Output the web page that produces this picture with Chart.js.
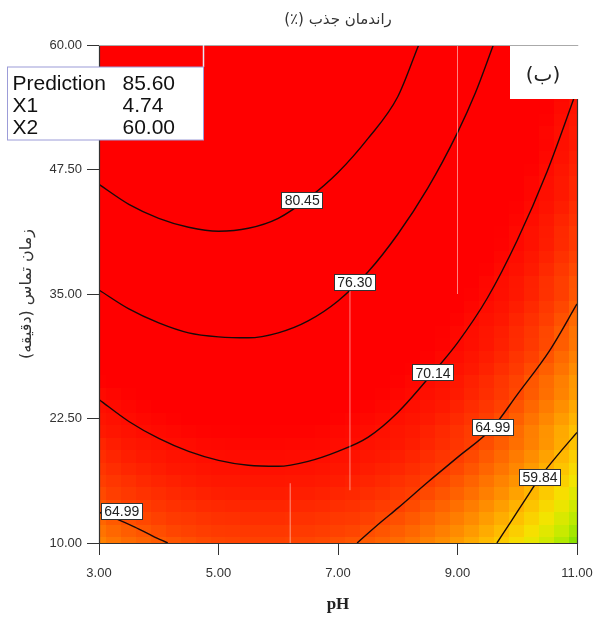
<!DOCTYPE html>
<html><head><meta charset="utf-8">
<script src="https://cdn.jsdelivr.net/npm/chart.js@4.4.1/dist/chart.umd.min.js"></script>
<style>html,body{margin:0;padding:0;background:#fff;}</style>
</head><body>
<canvas id="c" width="595" height="619"></canvas>
<script>
// ---------- DATA ----------
const phValues = [3,3.25,3.5,3.75,4,4.25,4.5,4.75,5,5.25,5.5,5.75,6,6.25,6.5,6.75,7,7.25,7.5,7.75,8,8.25,8.5,8.75,9,9.25,9.5,9.75,10,10.25,10.5,10.75,11];
const timeValues = [10,11.25,12.5,13.75,15,16.25,17.5,18.75,20,21.25,22.5,23.75,25,26.25,27.5,28.75,30,31.25,32.5,33.75,35,36.25,37.5,38.75,40,41.25,42.5,43.75,45,46.25,47.5,48.75,50,51.25,52.5,53.75,55,56.25,57.5,58.75,60];
// estimated adsorption yield (%) — one row per contact time, one column per pH
const responseGrid = [
 [62.8,63.4,63.9,64.3,64.7,65.0,65.3,65.6,65.8,65.9,66.0,66.0,66.0,65.9,65.8,65.6,65.3,65.0,64.7,64.3,63.9,63.4,62.8,62.2,61.6,60.9,60.1,59.3,58.4,57.5,56.5,55.5,54.4],
 [63.5,64.1,64.6,65.0,65.4,65.8,66.0,66.3,66.5,66.6,66.7,66.7,66.7,66.6,66.5,66.3,66.0,65.8,65.4,65.0,64.6,64.1,63.5,62.9,62.3,61.6,60.8,60.0,59.1,58.2,57.2,56.2,55.1],
 [64.2,64.8,65.3,65.7,66.1,66.5,66.7,67.0,67.2,67.3,67.4,67.4,67.4,67.3,67.2,67.0,66.7,66.5,66.1,65.7,65.3,64.8,64.2,63.6,63.0,62.3,61.5,60.7,59.8,58.9,57.9,56.9,55.8],
 [64.9,65.5,66.0,66.4,66.8,67.2,67.4,67.7,67.9,68.0,68.1,68.1,68.1,68.0,67.9,67.7,67.4,67.2,66.8,66.4,66.0,65.5,64.9,64.3,63.7,63.0,62.2,61.4,60.5,59.6,58.6,57.6,56.5],
 [65.6,66.2,66.7,67.1,67.5,67.9,68.1,68.4,68.6,68.7,68.8,68.8,68.8,68.7,68.6,68.4,68.1,67.9,67.5,67.1,66.7,66.2,65.6,65.0,64.4,63.7,62.9,62.1,61.2,60.3,59.3,58.3,57.2],
 [66.3,66.8,67.3,67.8,68.2,68.5,68.8,69.0,69.2,69.3,69.4,69.4,69.4,69.3,69.2,69.0,68.8,68.5,68.2,67.8,67.3,66.8,66.3,65.7,65.0,64.3,63.5,62.7,61.9,60.9,60.0,59.0,57.9],
 [66.9,67.5,68.0,68.4,68.8,69.2,69.4,69.7,69.9,70.0,70.1,70.1,70.1,70.0,69.9,69.7,69.4,69.2,68.8,68.4,68.0,67.5,66.9,66.3,65.7,65.0,64.2,63.4,62.5,61.6,60.6,59.6,58.5],
 [67.5,68.1,68.6,69.0,69.4,69.8,70.0,70.3,70.5,70.6,70.7,70.7,70.7,70.6,70.5,70.3,70.0,69.8,69.4,69.0,68.6,68.1,67.5,66.9,66.3,65.6,64.8,64.0,63.1,62.2,61.2,60.2,59.1],
 [68.1,68.7,69.2,69.6,70.0,70.4,70.6,70.9,71.1,71.2,71.3,71.3,71.3,71.2,71.1,70.9,70.6,70.4,70.0,69.6,69.2,68.7,68.1,67.5,66.9,66.2,65.4,64.6,63.7,62.8,61.8,60.8,59.7],
 [69.0,69.5,70.0,70.4,70.8,71.1,71.4,71.6,71.7,71.8,71.9,71.9,71.8,71.7,71.6,71.4,71.1,70.8,70.4,70.0,69.5,69.0,68.4,67.8,67.1,66.4,65.6,64.8,63.9,62.9,61.9,60.9,59.8],
 [69.6,70.1,70.6,71.0,71.4,71.7,72.0,72.2,72.3,72.4,72.5,72.5,72.4,72.3,72.2,72.0,71.7,71.4,71.0,70.6,70.1,69.6,69.0,68.4,67.7,67.0,66.2,65.4,64.5,63.5,62.5,61.5,60.4],
 [70.2,70.7,71.2,71.6,72.0,72.3,72.6,72.8,72.9,73.0,73.1,73.1,73.0,72.9,72.8,72.6,72.3,72.0,71.6,71.2,70.7,70.2,69.6,69.0,68.3,67.6,66.8,66.0,65.1,64.1,63.1,62.1,61.0],
 [70.8,71.3,71.8,72.2,72.6,72.9,73.2,73.4,73.5,73.6,73.7,73.7,73.6,73.5,73.4,73.2,72.9,72.6,72.2,71.8,71.3,70.8,70.2,69.6,68.9,68.2,67.4,66.6,65.7,64.7,63.7,62.7,61.6],
 [71.7,72.2,72.6,73.0,73.4,73.7,73.9,74.1,74.2,74.3,74.3,74.3,74.2,74.1,73.9,73.7,73.4,73.0,72.6,72.2,71.7,71.2,70.6,69.9,69.2,68.5,67.7,66.8,65.9,64.9,63.9,62.9,61.7],
 [72.3,72.8,73.2,73.6,74.0,74.3,74.5,74.7,74.8,74.9,74.9,74.9,74.8,74.7,74.5,74.3,74.0,73.6,73.2,72.8,72.3,71.8,71.2,70.5,69.8,69.1,68.3,67.4,66.5,65.5,64.5,63.5,62.3],
 [72.9,73.3,73.8,74.2,74.5,74.8,75.0,75.2,75.3,75.4,75.4,75.4,75.3,75.2,75.0,74.8,74.5,74.2,73.8,73.3,72.9,72.3,71.7,71.1,70.4,69.6,68.8,68.0,67.0,66.1,65.1,64.0,62.9],
 [73.4,73.9,74.3,74.7,75.1,75.4,75.6,75.8,75.9,76.0,76.0,76.0,75.9,75.8,75.6,75.4,75.1,74.7,74.3,73.9,73.4,72.9,72.3,71.6,70.9,70.2,69.4,68.5,67.6,66.6,65.6,64.6,63.4],
 [74.2,74.6,75.1,75.4,75.7,76.0,76.2,76.3,76.4,76.5,76.5,76.4,76.3,76.2,76.0,75.7,75.4,75.1,74.6,74.2,73.7,73.1,72.5,71.8,71.1,70.3,69.5,68.7,67.7,66.8,65.7,64.7,63.5],
 [74.7,75.1,75.6,75.9,76.2,76.5,76.7,76.8,76.9,77.0,77.0,76.9,76.8,76.7,76.5,76.2,75.9,75.6,75.1,74.7,74.2,73.6,73.0,72.3,71.6,70.8,70.0,69.2,68.2,67.3,66.2,65.2,64.0],
 [75.2,75.6,76.1,76.4,76.7,77.0,77.2,77.3,77.4,77.5,77.5,77.4,77.3,77.2,77.0,76.7,76.4,76.1,75.6,75.2,74.7,74.1,73.5,72.8,72.1,71.3,70.5,69.7,68.7,67.8,66.7,65.7,64.5],
 [75.7,76.1,76.6,76.9,77.2,77.5,77.7,77.8,77.9,78.0,78.0,77.9,77.8,77.7,77.5,77.2,76.9,76.6,76.1,75.7,75.2,74.6,74.0,73.3,72.6,71.8,71.0,70.2,69.2,68.3,67.2,66.2,65.0],
 [76.5,76.9,77.3,77.6,77.9,78.1,78.3,78.4,78.5,78.5,78.5,78.4,78.3,78.1,77.9,77.6,77.3,76.9,76.5,76.0,75.4,74.9,74.2,73.5,72.8,72.0,71.2,70.3,69.4,68.4,67.3,66.2,65.1],
 [77.0,77.4,77.8,78.1,78.4,78.6,78.8,78.9,79.0,79.0,79.0,78.9,78.8,78.6,78.4,78.1,77.8,77.4,77.0,76.5,75.9,75.4,74.7,74.0,73.3,72.5,71.7,70.8,69.9,68.9,67.8,66.7,65.6],
 [77.5,77.9,78.3,78.6,78.9,79.1,79.3,79.4,79.5,79.5,79.5,79.4,79.3,79.1,78.9,78.6,78.3,77.9,77.5,77.0,76.4,75.9,75.2,74.5,73.8,73.0,72.2,71.3,70.4,69.4,68.3,67.2,66.1],
 [78.0,78.4,78.8,79.1,79.4,79.6,79.8,79.9,80.0,80.0,80.0,79.9,79.8,79.6,79.4,79.1,78.8,78.4,78.0,77.5,76.9,76.4,75.7,75.0,74.3,73.5,72.7,71.8,70.9,69.9,68.8,67.7,66.6],
 [78.6,79.0,79.4,79.7,79.9,80.1,80.3,80.4,80.4,80.4,80.4,80.3,80.1,79.9,79.7,79.4,79.0,78.6,78.2,77.7,77.1,76.5,75.9,75.2,74.4,73.6,72.8,71.9,70.9,69.9,68.9,67.8,66.6],
 [79.1,79.5,79.8,80.1,80.4,80.6,80.7,80.8,80.9,80.9,80.8,80.7,80.6,80.4,80.1,79.8,79.5,79.1,78.6,78.1,77.6,77.0,76.3,75.6,74.9,74.1,73.2,72.3,71.4,70.4,69.3,68.2,67.1],
 [79.5,79.9,80.3,80.6,80.8,81.0,81.2,81.3,81.3,81.3,81.3,81.2,81.0,80.8,80.6,80.3,79.9,79.5,79.1,78.6,78.0,77.4,76.8,76.1,75.3,74.5,73.7,72.8,71.8,70.8,69.8,68.7,67.5],
 [80.0,80.4,80.7,81.0,81.3,81.5,81.6,81.7,81.8,81.8,81.7,81.6,81.5,81.3,81.0,80.7,80.4,80.0,79.5,79.0,78.5,77.9,77.2,76.5,75.8,75.0,74.1,73.2,72.3,71.3,70.2,69.1,68.0],
 [80.6,81.0,81.3,81.6,81.8,82.0,82.1,82.2,82.2,82.2,82.1,82.0,81.8,81.6,81.3,81.0,80.6,80.2,79.7,79.2,78.6,78.0,77.4,76.6,75.9,75.1,74.2,73.3,72.3,71.3,70.3,69.1,68.0],
 [81.0,81.4,81.7,82.0,82.2,82.4,82.5,82.6,82.6,82.6,82.5,82.4,82.2,82.0,81.7,81.4,81.0,80.6,80.1,79.6,79.0,78.4,77.8,77.0,76.3,75.5,74.6,73.7,72.7,71.7,70.7,69.5,68.4],
 [81.4,81.7,82.1,82.3,82.6,82.7,82.9,82.9,82.9,82.9,82.9,82.7,82.6,82.3,82.1,81.7,81.4,81.0,80.5,80.0,79.4,78.8,78.1,77.4,76.6,75.8,75.0,74.0,73.1,72.1,71.0,69.9,68.7],
 [81.7,82.1,82.4,82.7,82.9,83.1,83.2,83.3,83.3,83.3,83.2,83.1,82.9,82.7,82.4,82.1,81.7,81.3,80.8,80.3,79.7,79.1,78.5,77.7,77.0,76.2,75.3,74.4,73.4,72.4,71.4,70.2,69.1],
 [82.3,82.6,82.9,83.2,83.4,83.5,83.6,83.6,83.6,83.6,83.5,83.4,83.2,82.9,82.6,82.3,81.9,81.4,81.0,80.4,79.8,79.2,78.5,77.8,77.0,76.2,75.3,74.4,73.4,72.4,71.3,70.2,69.0],
 [82.6,83.0,83.3,83.5,83.7,83.8,83.9,84.0,84.0,83.9,83.8,83.7,83.5,83.3,83.0,82.6,82.2,81.8,81.3,80.8,80.2,79.6,78.9,78.1,77.4,76.5,75.7,74.7,73.8,72.7,71.7,70.5,69.4],
 [82.9,83.3,83.6,83.8,84.0,84.1,84.2,84.3,84.3,84.2,84.1,84.0,83.8,83.6,83.3,82.9,82.5,82.1,81.6,81.1,80.5,79.9,79.2,78.4,77.7,76.8,76.0,75.0,74.1,73.0,72.0,70.8,69.7],
 [83.2,83.6,83.9,84.1,84.3,84.4,84.5,84.6,84.6,84.5,84.4,84.3,84.1,83.9,83.6,83.2,82.8,82.4,81.9,81.4,80.8,80.2,79.5,78.7,78.0,77.1,76.3,75.3,74.4,73.3,72.3,71.1,70.0],
 [83.7,84.0,84.3,84.5,84.7,84.8,84.9,84.9,84.9,84.8,84.7,84.5,84.3,84.0,83.7,83.4,83.0,82.5,82.0,81.4,80.8,80.2,79.5,78.7,77.9,77.1,76.2,75.3,74.3,73.3,72.2,71.0,69.9],
 [84.0,84.3,84.6,84.8,85.0,85.1,85.2,85.2,85.2,85.1,85.0,84.8,84.6,84.3,84.0,83.7,83.3,82.8,82.3,81.7,81.1,80.5,79.8,79.0,78.2,77.4,76.5,75.6,74.6,73.6,72.5,71.3,70.2],
 [84.3,84.6,84.8,85.1,85.2,85.4,85.4,85.4,85.4,85.4,85.2,85.1,84.8,84.6,84.3,83.9,83.5,83.0,82.5,82.0,81.4,80.7,80.0,79.3,78.5,77.7,76.8,75.8,74.8,73.8,72.7,71.6,70.4],
 [84.5,84.8,85.1,85.3,85.5,85.6,85.7,85.7,85.7,85.6,85.5,85.3,85.1,84.8,84.5,84.2,83.8,83.3,82.8,82.2,81.6,81.0,80.3,79.5,78.7,77.9,77.0,76.1,75.1,74.1,73.0,71.8,70.7]
];
// contour lines [pH, time]
const contour8045  = [[3,46.0],[3.5,44.0],[4,42.6],[4.5,41.7],[5,41.3],[5.5,41.6],[6,42.6],[6.5,44.6],[7,47.2],[7.5,50.6],[8,54.8],[8.35,60]];
const contour7630  = [[3,35.4],[3.5,33.5],[4,32.1],[4.5,31.1],[5,30.7],[5.5,30.6],[6,31.1],[6.5,32.3],[7,34.3],[7.5,37.2],[8,41.0],[8.5,45.6],[9,51.2],[9.3,55.2],[9.6,60]];
const contour7014  = [[3,24.4],[3.5,22.2],[4,20.5],[4.5,19.2],[5,18.3],[5.5,17.8],[6,17.7],[6.5,18.2],[7,19.2],[7.5,20.6],[8,23.1],[8.59,27.1],[9,30.1],[9.5,34.6],[10,40.4],[10.5,47.3],[11,55.5]];
const contour6499L = [[3,13.1],[3.3,12.4],[3.6,11.6],[3.9,10.7],[4.15,10]];
const contour6499R = [[7.32,10],[7.7,12.0],[8,13.5],[8.5,16.1],[9,18.6],[9.59,21.6],[10,24.9],[10.55,29.4],[11,34.0]];
const contour5984  = [[9.66,10],[9.9,12.2],[10.15,14.5],[10.38,16.6],[10.7,19.0],[11,21.1]];
// contour labels
const labelTexts = ['80.45','76.30','70.14','64.99','64.99','59.84'];
const labelPh    = [6.40, 7.28, 8.59, 9.59, 3.38, 10.38];
const labelTime  = [44.4, 36.2, 27.1, 21.6, 13.2, 16.6];
// faint design-point marks [pH, timeFrom, timeTo]
const markLines = [[9.0,35,60],[7.2,15.3,35.5],[6.2,10,16]];
// prediction flag
const predNames  = ['Prediction','X1','X2'];
const predValues = ['85.60','4.74','60.00'];
const predPh = 4.74, predTime = 60;
// axes
const xTicks = [3,5,7,9,11];
const yTicks = [10,22.5,35,47.5,60];
const titleText  = 'راندمان جذب (٪)';
const yTitleText = 'زمان تماس (دقیقه)';
const xTitleText = 'pH';
const panelText  = '(ب)';

// ---------- STYLE ----------
const colorStops = [[54,[125,225,0]],[56,[195,235,0]],[58,[245,228,0]],[60,[255,188,0]],[62,[255,145,0]],[64,[255,105,0]],[66,[255,65,0]],[69,[255,25,0]],[72,[255,0,0]]];
function colorFor(v){
  if (v <= colorStops[0][0]) return 'rgb('+colorStops[0][1].join(',')+')';
  for (let k=1;k<colorStops.length;k++){
    if (v <= colorStops[k][0]){
      const [a,ca]=colorStops[k-1],[b,cb]=colorStops[k];
      const t=(v-a)/(b-a);
      return 'rgb('+ca.map((c,i)=>Math.round(c+(cb[i]-c)*t)).join(',')+')';
    }
  }
  return 'rgb(255,0,0)';
}
const toPts = arr => arr.map(p => ({x:p[0], y:p[1]}));
const lineColor = '#1a0a0a';

const heatPlugin = {
  id:'heat',
  beforeDatasetsDraw(chart){
    const {ctx, chartArea:a, scales:{x,y}} = chart;
    const hw=(phValues[1]-phValues[0])/2, hh=(timeValues[1]-timeValues[0])/2;
    ctx.save();
    ctx.beginPath(); ctx.rect(a.left,a.top,a.right-a.left,a.bottom-a.top); ctx.clip();
    for (let j=0;j<timeValues.length;j++){
      for (let i=0;i<phValues.length;i++){
        const x0=Math.floor(x.getPixelForValue(phValues[i]-hw)), x1=Math.ceil(x.getPixelForValue(phValues[i]+hw));
        const y0=Math.floor(y.getPixelForValue(timeValues[j]+hh)), y1=Math.ceil(y.getPixelForValue(timeValues[j]-hh));
        ctx.fillStyle=colorFor(responseGrid[j][i]);
        ctx.fillRect(x0,y0,x1-x0,y1-y0);
      }
    }
    ctx.restore();
  }
};

const overlayPlugin = {
  id:'overlay',
  afterDatasetsDraw(chart){
    const {ctx, chartArea:a, scales:{x,y}} = chart;
    ctx.save();
    // contour labels
    ctx.font='14px "Liberation Sans", Arial, sans-serif';
    ctx.textAlign='center'; ctx.textBaseline='middle'; ctx.direction='ltr';
    for (let i=0;i<labelTexts.length;i++){
      const px=x.getPixelForValue(labelPh[i]), py=y.getPixelForValue(labelTime[i]);
      const w=ctx.measureText(labelTexts[i]).width+7, h=17;
      ctx.fillStyle='#fff'; ctx.fillRect(Math.round(px-w/2),Math.round(py-h/2),Math.round(w),h);
      ctx.strokeStyle='#333'; ctx.lineWidth=1;
      ctx.strokeRect(Math.round(px-w/2)+0.5,Math.round(py-h/2)+0.5,Math.round(w)-1,h-1);
      ctx.fillStyle='#222'; ctx.fillText(labelTexts[i],px,py+1);
    }
    // frame
    ctx.strokeStyle='#333'; ctx.lineWidth=1.2;
    ctx.beginPath();
    ctx.moveTo(a.left+0.5,a.top); ctx.lineTo(a.left+0.5,a.bottom+0.5); ctx.lineTo(a.right+0.5,a.bottom+0.5); ctx.lineTo(a.right+0.5,a.top);
    ctx.stroke();
    // panel box
    ctx.fillStyle='#fff';
    ctx.fillRect(510,a.top+1,a.right-510+2,53);
    ctx.strokeStyle='#aaa'; ctx.lineWidth=1;
    ctx.beginPath(); ctx.moveTo(a.left,a.top+0.5); ctx.lineTo(a.right+1,a.top+0.5); ctx.stroke();
    ctx.fillStyle='#222'; ctx.font='20px "DejaVu Sans", sans-serif'; ctx.direction='rtl';
    ctx.textAlign='center'; ctx.textBaseline='middle';
    ctx.fillText(panelText,543,76);
    // prediction flag
    const fx=Math.round(x.getPixelForValue(predPh))+0.5, fy=y.getPixelForValue(predTime);
    const bw=196, bh=73, bx=fx-bw, by=fy+22;
    ctx.strokeStyle='#e6e6f5'; ctx.lineWidth=1.5;
    ctx.beginPath(); ctx.moveTo(fx,fy); ctx.lineTo(fx,by); ctx.stroke();
    ctx.fillStyle='#fff'; ctx.fillRect(bx,by,bw,bh);
    ctx.strokeStyle='#9c9cd8'; ctx.lineWidth=1; ctx.strokeRect(bx,by,bw,bh);
    ctx.direction='ltr'; ctx.textAlign='left'; ctx.textBaseline='alphabetic';
    ctx.font='21px "Liberation Sans", Arial, sans-serif'; ctx.fillStyle='#111';
    for (let i=0;i<predNames.length;i++){
      ctx.fillText(predNames[i],bx+5,by+23+i*22);
      ctx.fillText(predValues[i],bx+115,by+23+i*22);
    }
    // titles
    ctx.direction='rtl'; ctx.textAlign='center'; ctx.textBaseline='middle';
    ctx.fillStyle='#333'; ctx.font='15px "DejaVu Sans", sans-serif';
    ctx.fillText(titleText,(a.left+a.right)/2,20);
    ctx.save();
    ctx.font='16px "DejaVu Sans", sans-serif';
    ctx.translate(27,(a.top+a.bottom)/2); ctx.rotate(-Math.PI/2);
    ctx.fillText(yTitleText,0,0);
    ctx.restore();
    ctx.restore();
  }
};

const datasets = [
  ...markLines.map(m=>({data:[{x:m[0],y:m[1]},{x:m[0],y:m[2]}],borderColor:'rgba(255,235,235,0.55)',borderWidth:1,pointRadius:0,showLine:true})),
  ...[contour8045,contour7630,contour7014,contour6499L,contour6499R,contour5984].map(c=>({
    data:toPts(c), showLine:true, borderColor:lineColor, borderWidth:1.4, pointRadius:0,
    cubicInterpolationMode:'monotone', fill:false
  }))
];

new Chart(document.getElementById('c'),{
  type:'scatter',
  data:{datasets},
  options:{
    responsive:false, animation:false, devicePixelRatio:1,
    layout:{padding:{top:45,right:18,left:0,bottom:0}},
    plugins:{legend:{display:false},tooltip:{enabled:false},title:{display:false}},
    scales:{
      x:{type:'linear',min:3,max:11,
        afterBuildTicks:s=>{s.ticks=xTicks.map(v=>({value:v}));},
        afterFit:s=>{s.height=76; s.paddingLeft=0; s.paddingRight=0;},
        ticks:{callback:v=>v.toFixed(2),font:{family:'"Liberation Sans", Arial',size:13},color:'#333',padding:11,maxRotation:0,autoSkip:false},
        grid:{drawOnChartArea:false,drawTicks:true,tickLength:12,tickColor:'#333'},
        border:{display:false},
        title:{display:true,text:xTitleText,font:{family:'"Liberation Serif", "Times New Roman", serif',size:17,weight:'bold'},color:'#222',padding:{top:0,bottom:4}}
      },
      y:{type:'linear',min:10,max:60,
        afterBuildTicks:s=>{s.ticks=yTicks.map(v=>({value:v}));},
        afterFit:s=>{s.width=99; s.paddingTop=0; s.paddingBottom=0;},
        ticks:{callback:v=>v.toFixed(2),font:{family:'"Liberation Sans", Arial',size:13},color:'#333',padding:5,autoSkip:false},
        grid:{drawOnChartArea:false,drawTicks:true,tickLength:12,tickColor:'#333'},
        border:{display:false}
      }
    }
  },
  plugins:[heatPlugin,overlayPlugin]
});
</script>
</body></html>
